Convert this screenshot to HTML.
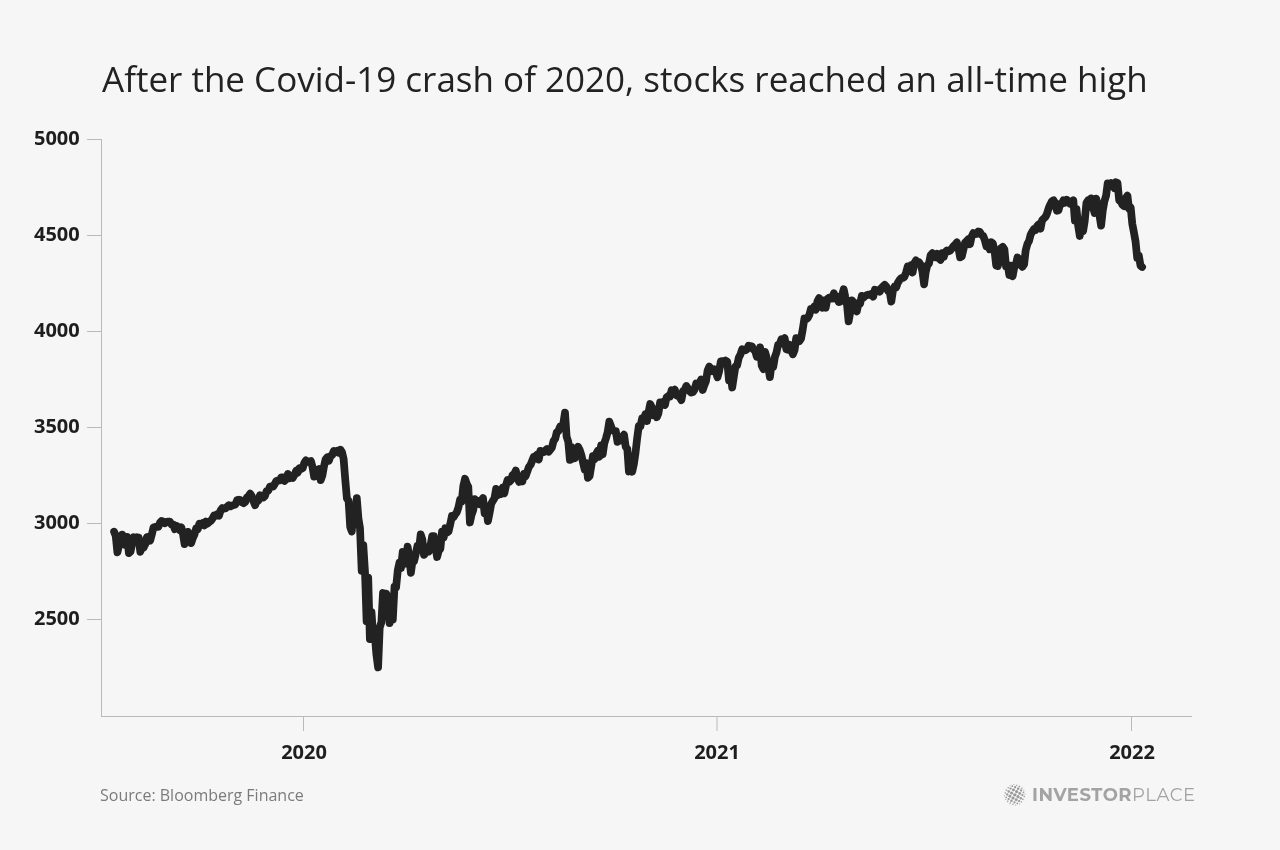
<!DOCTYPE html>
<html><head><meta charset="utf-8">
<style>
html,body{margin:0;padding:0;}
body{width:1280px;height:850px;background:#f6f6f6;position:relative;overflow:hidden;font-family:"Open Sans","Noto Sans","Liberation Sans",sans-serif;}
.t{position:absolute;white-space:nowrap;line-height:1;will-change:transform;}
#title{left:102px;top:61px;font-size:35px;color:#222;}
.yl{font-weight:700;font-size:20px;color:#1e1e1e;right:1200.5px;}
.xl{font-weight:700;font-size:20px;color:#1e1e1e;transform:translateX(-50%);}
#src{left:100px;top:787px;font-size:16px;color:#7b7b7b;}
#logo{left:1032px;top:786px;font-size:18px;color:#a3a3a3;letter-spacing:0.5px;font-family:"Montserrat","Liberation Sans",sans-serif;}
svg{position:absolute;left:0;top:0;}
</style></head><body>
<div class="t" id="title">After the Covid-19 crash of 2020, stocks reached an all-time high</div>
<div class="t yl" style="top:128.3px">5000</div>
<div class="t yl" style="top:224.3px">4500</div>
<div class="t yl" style="top:320.3px">4000</div>
<div class="t yl" style="top:416.3px">3500</div>
<div class="t yl" style="top:512.3px">3000</div>
<div class="t yl" style="top:608.3px">2500</div>
<div class="t xl" style="left:303.6px;top:742.2px">2020</div>
<div class="t xl" style="left:717px;top:742.2px">2021</div>
<div class="t xl" style="left:1131.6px;top:742.2px">2022</div>
<div class="t" id="src">Source: Bloomberg Finance</div>
<div class="t" id="logo"><b style="font-weight:700">INVESTOR</b>PLACE</div>
<svg width="1280" height="850" viewBox="0 0 1280 850">
<g stroke="#bababa" stroke-width="1" fill="none" shape-rendering="crispEdges">
<path d="M101.5 139V716.5H1192"/>
<path d="M87 139.5H101M87 235.5H101M87 331.5H101M87 427.5H101M87 523.5H101M87 619.5H101"/>
<path d="M303.5 716V731M1131.5 716V731"/>
</g>
<path d="M717 717V731" stroke="#bababa" stroke-width="1"/>
<g fill="#999"><circle cx="1006.98" cy="787.50" r="0.26"/><circle cx="1005.51" cy="789.65" r="0.32"/><circle cx="1004.47" cy="792.04" r="0.26"/><circle cx="1011.84" cy="784.47" r="0.21"/><circle cx="1010.09" cy="785.69" r="0.51"/><circle cx="1008.30" cy="787.72" r="0.72"/><circle cx="1006.65" cy="790.28" r="0.80"/><circle cx="1005.35" cy="793.04" r="0.72"/><circle cx="1004.58" cy="795.64" r="0.51"/><circle cx="1004.47" cy="797.76" r="0.21"/><circle cx="1013.96" cy="784.58" r="0.51"/><circle cx="1012.32" cy="786.17" r="0.89"/><circle cx="1010.52" cy="788.56" r="1.15"/><circle cx="1008.76" cy="791.45" r="1.25"/><circle cx="1007.24" cy="794.48" r="1.15"/><circle cx="1006.17" cy="797.28" r="0.89"/><circle cx="1005.69" cy="799.51" r="0.51"/><circle cx="1017.56" cy="784.47" r="0.26"/><circle cx="1016.56" cy="785.35" r="0.72"/><circle cx="1015.12" cy="787.24" r="1.15"/><circle cx="1013.40" cy="789.90" r="1.45"/><circle cx="1011.59" cy="793.02" r="1.56"/><circle cx="1009.90" cy="796.20" r="1.45"/><circle cx="1008.56" cy="799.08" r="1.15"/><circle cx="1007.72" cy="801.30" r="0.72"/><circle cx="1007.50" cy="802.62" r="0.26"/><circle cx="1019.95" cy="785.51" r="0.32"/><circle cx="1019.32" cy="786.65" r="0.80"/><circle cx="1018.15" cy="788.76" r="1.25"/><circle cx="1016.58" cy="791.59" r="1.56"/><circle cx="1014.80" cy="794.80" r="1.67"/><circle cx="1013.02" cy="798.01" r="1.56"/><circle cx="1011.45" cy="800.84" r="1.25"/><circle cx="1010.28" cy="802.95" r="0.80"/><circle cx="1009.65" cy="804.09" r="0.32"/><circle cx="1022.10" cy="786.98" r="0.26"/><circle cx="1021.88" cy="788.30" r="0.72"/><circle cx="1021.04" cy="790.52" r="1.15"/><circle cx="1019.70" cy="793.40" r="1.45"/><circle cx="1018.01" cy="796.58" r="1.56"/><circle cx="1016.20" cy="799.70" r="1.45"/><circle cx="1014.48" cy="802.36" r="1.15"/><circle cx="1013.04" cy="804.25" r="0.72"/><circle cx="1012.04" cy="805.13" r="0.26"/><circle cx="1023.91" cy="790.09" r="0.51"/><circle cx="1023.43" cy="792.32" r="0.89"/><circle cx="1022.36" cy="795.12" r="1.15"/><circle cx="1020.84" cy="798.15" r="1.25"/><circle cx="1019.08" cy="801.04" r="1.15"/><circle cx="1017.28" cy="803.43" r="0.89"/><circle cx="1015.64" cy="805.02" r="0.51"/><circle cx="1025.13" cy="791.84" r="0.21"/><circle cx="1025.02" cy="793.96" r="0.51"/><circle cx="1024.25" cy="796.56" r="0.72"/><circle cx="1022.95" cy="799.32" r="0.80"/><circle cx="1021.30" cy="801.88" r="0.72"/><circle cx="1019.51" cy="803.91" r="0.51"/><circle cx="1017.76" cy="805.13" r="0.21"/><circle cx="1025.13" cy="797.56" r="0.26"/><circle cx="1024.09" cy="799.95" r="0.32"/><circle cx="1022.62" cy="802.10" r="0.26"/></g>
<polyline fill="none" stroke="#222" stroke-width="7.75" stroke-linejoin="round" stroke-linecap="round" points="114.1,531.7 115.7,535.7 117.4,552.3 119.0,545.3 120.7,544.8 122.3,534.6 123.9,538.3 125.6,545.1 127.2,536.8 128.9,553.1 130.5,551.7 132.1,544.0 133.8,537.3 135.4,541.7 137.1,537.2 138.7,537.5 140.3,551.8 142.0,545.9 143.6,547.7 145.3,544.1 146.9,537.1 148.5,536.8 150.2,540.6 151.8,534.6 153.5,527.4 155.1,526.9 156.7,526.9 158.4,526.8 160.0,522.7 161.6,521.0 163.3,521.4 164.9,523.2 166.6,521.8 168.2,521.6 169.8,521.6 171.5,524.4 173.1,524.4 174.8,529.2 176.4,525.7 178.0,527.1 179.7,530.1 181.3,527.3 183.0,534.2 184.6,544.2 186.2,539.8 187.9,531.9 189.5,534.5 191.2,543.1 192.8,538.1 194.4,534.6 196.1,528.5 197.7,529.3 199.4,523.7 201.0,524.8 202.6,523.2 204.3,525.5 205.9,521.6 207.6,523.6 209.2,522.0 210.8,520.9 212.5,518.6 214.1,515.4 215.8,515.9 217.4,514.0 219.0,515.7 220.7,510.2 222.3,508.0 224.0,508.7 225.6,508.3 227.2,506.7 228.9,505.2 230.5,506.4 232.2,505.4 233.8,505.0 235.4,504.5 237.1,500.0 238.7,499.7 240.3,500.1 242.0,502.3 243.6,503.2 245.3,501.9 246.9,497.5 248.5,496.2 250.2,493.7 251.8,496.1 253.5,501.3 255.1,505.2 256.7,501.5 258.4,500.6 260.0,495.2 261.7,497.1 263.3,497.7 264.9,496.0 266.6,490.9 268.2,490.9 269.9,486.6 271.5,486.4 273.1,486.6 274.8,483.9 276.4,480.9 278.1,480.4 279.7,480.5 281.3,477.4 283.0,477.4 284.6,480.9 286.3,479.1 287.9,474.0 289.5,478.3 291.2,476.2 292.8,477.9 294.5,474.9 296.1,470.8 297.7,472.6 299.4,468.2 301.0,469.2 302.7,468.0 304.3,462.8 305.9,460.4 307.6,462.0 309.2,461.9 310.9,461.1 312.5,466.8 314.1,476.7 315.8,470.5 317.4,471.0 319.0,469.1 320.7,480.1 322.3,475.7 324.0,466.4 325.6,459.4 327.2,457.3 328.9,460.7 330.5,456.1 332.2,455.0 333.8,450.9 335.4,452.0 337.1,450.8 338.7,452.7 340.4,449.7 342.0,452.1 343.6,458.8 345.3,480.0 346.9,498.5 348.6,500.8 350.2,526.9 351.8,531.5 353.5,505.7 355.1,522.2 356.8,498.2 358.4,518.3 360.0,528.1 361.7,570.9 363.3,545.2 365.0,571.9 366.6,621.3 368.2,577.6 369.9,639.2 371.5,612.1 373.2,636.9 374.8,634.8 376.4,654.6 378.1,667.4 379.7,627.6 381.4,622.3 383.0,593.0 384.6,609.8 386.3,593.6 387.9,601.6 389.6,623.2 391.2,612.5 392.8,619.8 394.5,586.6 396.1,587.4 397.8,570.2 399.4,562.7 401.0,568.0 402.7,552.0 404.3,563.9 405.9,560.8 407.6,546.6 409.2,556.4 410.9,572.8 412.5,560.9 414.1,561.2 415.8,553.8 417.4,545.9 419.1,548.7 420.7,534.3 422.3,539.4 424.0,554.9 425.6,552.7 427.3,547.8 428.9,551.6 430.5,545.4 432.2,536.2 433.8,536.1 435.5,547.5 437.1,557.0 438.7,550.8 440.4,548.7 442.0,531.6 443.7,537.5 445.3,528.2 446.9,532.6 448.6,531.3 450.2,524.4 451.9,516.0 453.5,517.2 455.1,514.5 456.8,512.3 458.4,507.5 460.1,499.6 461.7,501.6 463.3,486.1 465.0,478.8 466.6,483.6 468.3,486.8 469.9,522.5 471.5,515.0 473.2,510.2 474.8,499.2 476.5,501.3 478.1,501.0 479.7,504.3 481.4,500.5 483.0,498.0 484.6,513.3 486.3,507.0 487.9,521.1 489.6,512.8 491.2,503.8 492.8,500.9 494.5,498.2 496.1,488.8 497.8,495.3 499.4,490.6 501.0,494.0 502.7,487.8 504.3,493.4 506.0,485.4 507.6,479.9 509.2,482.0 510.9,480.3 512.5,475.1 514.2,474.1 515.8,470.5 517.4,478.2 519.1,482.0 520.7,477.5 522.4,481.4 524.0,473.9 525.6,476.2 527.3,471.5 528.9,467.0 530.6,464.7 532.2,460.7 533.8,456.7 535.5,456.3 537.1,454.5 538.8,459.6 540.4,450.8 542.0,452.1 543.7,452.2 545.3,450.4 547.0,449.0 548.6,451.8 550.2,449.8 551.9,447.6 553.5,441.1 555.2,438.8 556.8,432.1 558.4,431.0 560.1,426.6 561.7,428.0 563.4,423.0 565.0,412.7 566.6,436.6 568.3,441.9 569.9,459.9 571.5,447.2 573.2,458.6 574.8,458.2 576.5,450.1 578.1,446.8 579.7,449.8 581.4,455.2 583.0,462.3 584.7,469.6 586.3,463.0 587.9,477.9 589.6,476.1 591.2,466.3 592.9,456.2 594.5,459.3 596.1,454.0 597.8,450.7 599.4,456.8 601.1,445.4 602.7,454.4 604.3,443.3 606.0,438.1 607.6,432.4 609.3,421.6 610.9,425.8 612.5,430.2 614.2,431.2 615.8,431.1 617.5,441.9 619.1,438.9 620.7,440.3 622.4,436.9 624.0,434.6 625.7,446.8 627.3,448.8 628.9,471.5 630.6,464.1 632.2,471.7 633.9,464.0 635.5,452.9 637.1,438.8 638.8,426.1 640.4,426.3 642.1,418.5 643.7,419.4 645.3,414.3 647.0,421.1 648.6,411.9 650.2,404.0 651.9,407.3 653.5,415.2 655.2,412.6 656.8,417.2 658.4,413.4 660.1,402.4 661.7,403.5 663.4,401.8 665.0,405.0 666.6,397.3 668.3,396.0 669.9,396.5 671.6,390.3 673.2,391.7 674.8,389.7 676.5,395.3 678.1,396.2 679.8,397.1 681.4,400.1 683.0,391.2 684.7,389.9 686.3,385.9 688.0,388.4 689.6,391.1 691.2,392.6 692.9,392.1 694.5,389.6 696.2,383.5 697.8,385.0 699.4,384.1 701.1,379.5 702.7,390.0 704.4,385.1 706.0,381.0 707.6,370.5 709.3,366.5 710.9,371.3 712.6,371.0 714.2,369.3 715.8,372.0 717.5,377.2 719.1,371.4 720.8,361.4 722.4,361.1 724.0,363.3 725.7,360.7 727.3,361.8 729.0,380.5 730.6,373.6 732.2,387.5 733.9,376.2 735.5,366.2 737.1,365.5 738.8,357.6 740.4,354.7 742.1,349.3 743.7,350.1 745.3,350.4 747.0,349.1 748.6,345.6 750.3,346.1 751.9,346.3 753.5,349.6 755.2,351.0 756.8,356.7 758.5,355.8 760.1,347.4 761.7,365.6 763.4,369.1 765.0,351.9 766.7,357.9 768.3,367.5 769.9,377.2 771.6,363.3 773.2,367.2 774.9,356.9 776.5,352.5 778.1,344.8 779.8,344.0 781.4,339.2 783.1,340.4 784.7,338.2 786.3,349.3 788.0,349.8 789.6,344.6 791.3,350.3 792.9,354.3 794.5,350.4 796.2,338.1 797.8,338.8 799.5,341.1 801.1,338.4 802.7,329.5 804.4,318.5 806.0,319.3 807.7,318.1 809.3,314.9 810.9,308.9 812.6,309.0 814.2,306.5 815.8,309.7 817.5,301.0 819.1,298.1 820.8,302.3 822.4,307.7 824.0,300.4 825.7,307.7 827.3,299.1 829.0,297.7 830.6,297.9 832.2,298.6 833.9,293.2 835.5,298.9 837.2,296.8 838.8,302.1 840.4,301.5 842.1,295.1 843.7,289.2 845.4,297.6 847.0,304.5 848.6,321.3 850.3,312.0 851.9,300.3 853.6,302.3 855.2,309.1 856.8,311.4 858.5,303.1 860.1,303.7 861.8,295.9 863.4,297.6 865.0,296.1 866.7,295.2 868.3,294.6 870.0,295.0 871.6,293.8 873.2,296.7 874.9,289.7 876.5,290.4 878.2,290.2 879.8,291.7 881.4,288.0 883.1,286.4 884.7,284.9 886.4,286.5 888.0,290.9 889.6,291.2 891.3,301.7 892.9,290.7 894.5,286.6 896.2,287.4 897.8,282.8 899.5,280.1 901.1,278.2 902.7,278.0 904.4,276.9 906.0,272.6 907.7,266.5 909.3,268.2 910.9,265.4 912.6,272.5 914.2,263.2 915.9,260.4 917.5,263.3 919.1,262.3 920.8,265.0 922.4,271.3 924.1,284.3 925.7,272.1 927.3,265.3 929.0,263.6 930.6,255.2 932.3,253.2 933.9,257.2 935.5,257.3 937.2,253.8 938.8,258.4 940.5,259.9 942.1,253.1 943.7,257.0 945.4,251.9 947.0,250.5 948.7,251.3 950.3,250.5 951.9,248.4 953.6,245.9 955.2,244.6 956.9,242.4 958.5,248.4 960.1,257.4 961.8,256.4 963.4,249.6 965.1,242.4 966.7,241.1 968.3,239.2 970.0,244.2 971.6,236.7 973.3,233.1 974.9,234.2 976.5,233.9 978.2,231.5 979.8,231.8 981.4,234.7 983.1,235.8 984.7,239.8 986.4,246.4 988.0,244.4 989.6,249.3 991.3,242.2 992.9,243.5 994.6,251.2 996.2,265.5 997.8,266.1 999.5,258.3 1001.1,248.2 1002.8,246.9 1004.4,249.3 1006.0,266.4 1007.7,265.2 1009.3,275.0 1011.0,265.6 1012.6,276.3 1014.2,267.8 1015.9,264.4 1017.5,257.5 1019.2,259.1 1020.8,264.8 1022.4,266.8 1024.1,264.3 1025.7,250.2 1027.4,243.9 1029.0,241.1 1030.6,234.8 1032.3,231.6 1033.9,229.1 1035.6,230.0 1037.2,225.9 1038.8,224.3 1040.5,228.7 1042.1,220.2 1043.8,218.5 1045.4,217.0 1047.0,213.7 1048.7,208.1 1050.3,204.4 1052.0,201.1 1053.6,200.3 1055.2,203.4 1056.9,210.7 1058.5,210.2 1060.1,203.8 1061.8,203.9 1063.4,200.4 1065.1,202.7 1066.7,199.7 1068.3,201.0 1070.0,203.8 1071.6,202.4 1073.3,200.3 1074.9,220.6 1076.5,209.1 1078.2,225.8 1079.8,236.0 1081.5,223.9 1083.1,231.2 1084.7,221.1 1086.4,203.1 1088.0,200.4 1089.7,206.8 1091.3,198.3 1092.9,206.5 1094.6,213.1 1096.2,198.7 1097.9,206.5 1099.5,215.6 1101.1,225.6 1102.8,210.2 1104.4,201.3 1106.1,195.7 1107.7,183.3 1109.3,184.2 1111.0,183.0 1112.6,185.7 1114.3,188.1 1115.9,182.3 1117.5,182.9 1119.2,200.5 1120.8,201.3 1122.5,205.0 1124.1,206.2 1125.7,198.1 1127.4,195.6 1129.0,208.4 1130.7,207.6 1132.3,223.9 1133.9,232.3 1135.6,241.8 1137.2,257.9 1138.8,255.5 1140.5,265.7 1142.1,267.0"/>
</svg>
</body></html>
